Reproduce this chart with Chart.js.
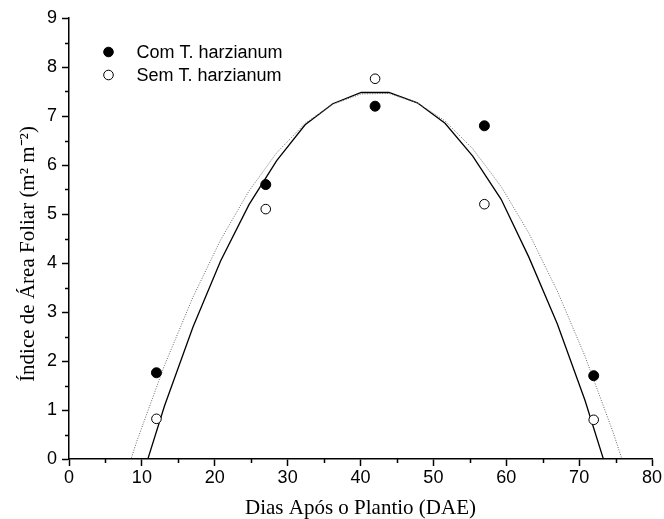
<!DOCTYPE html>
<html>
<head>
<meta charset="utf-8">
<script src="https://cdn.jsdelivr.net/npm/chart.js@4/dist/chart.umd.min.js"></script>
<style>
  html, body { margin: 0; padding: 0; background: #fff; }
  #chart { display: block; }
</style>
</head>
<body>
<canvas id="chart" width="664" height="519"></canvas>
<script>
"use strict";

/* ── Data ────────────────────────────────────────────────── */
const seriesNames = ['Com T. harzianum', 'Sem T. harzianum'];

const sampleDays = [12, 27, 42, 57, 72];
const comValues  = [1.76, 5.6, 7.2, 6.8, 1.7];
const semValues  = [0.82, 5.1, 7.76, 5.2, 0.8];

// fitted curves, read at the polyline vertices
const fitDays = [5.4, 9.3, 13.1, 17.0, 20.8, 24.7, 28.5, 32.4, 36.2, 40.1,
                 43.9, 47.8, 51.6, 55.4, 59.3, 63.1, 67.0, 70.8, 74.7, 78.5];
const comFit  = [-1.43, 0.36, 1.91, 3.30, 4.47, 5.47, 6.25, 6.85, 7.24, 7.45,
                 7.46, 7.27, 6.90, 6.33, 5.56, 4.61, 3.43, 2.10, 0.53, -1.19];
const semFit  = [-2.80, -0.72, 1.08, 2.69, 4.04, 5.19, 6.09, 6.82, 7.25, 7.48,
                 7.48, 7.27, 6.85, 6.18, 5.30, 4.12, 2.76, 1.20, -0.65, -2.67];

const xMajorTicks = [0, 10, 20, 30, 40, 50, 60, 70, 80];
const xMinorTicks = [5, 15, 25, 35, 45, 55, 65, 75];
const yMajorTicks = [0, 1, 2, 3, 4, 5, 6, 7, 8, 9];
const yMinorTicks = [0.5, 1.5, 2.5, 3.5, 4.5, 5.5, 6.5, 7.5, 8.5];

const xTitle = 'Dias Após o Plantio (DAE)';
const yTitle = 'Índice de Área Foliar (m² m⁻²)';

/* ── Styling ─────────────────────────────────────────────── */
const SANS  = '"Liberation Sans", Arial, sans-serif';
const SERIF = '"Liberation Serif", "Times New Roman", serif';
const INK   = '#000';

const toXY = (xs, ys) => xs.map((x, i) => ({ x, y: ys[i] }));

/* minor ticks (Chart.js has none of its own) */
const minorTicks = {
  id: 'minorTicks',
  afterDraw(chart) {
    const { ctx, scales: { x, y } } = chart;
    ctx.save();
    ctx.strokeStyle = INK;
    ctx.lineWidth = 1.5;
    ctx.beginPath();
    xMinorTicks.forEach(v => {
      const px = Math.round(x.getPixelForValue(v)) + 0.5;
      ctx.moveTo(px, x.top);
      ctx.lineTo(px, x.top + 4);
    });
    yMinorTicks.forEach(v => {
      const py = Math.round(y.getPixelForValue(v)) + 0.5;
      ctx.moveTo(y.right, py);
      ctx.lineTo(y.right - 4, py);
    });
    ctx.stroke();
    ctx.restore();
  },
};

/* rotated y title, centred where the figure has it */
const yTitlePlugin = {
  id: 'yTitle',
  afterDraw(chart) {
    const { ctx } = chart;
    ctx.save();
    ctx.translate(34, 254);
    ctx.rotate(-Math.PI / 2);
    ctx.font = `21px ${SERIF}`;
    ctx.fillStyle = INK;
    ctx.textAlign = 'center';
    ctx.textBaseline = 'alphabetic';
    ctx.fillText(yTitle, 0, 0);
    ctx.restore();
  },
};

/* legend inside the plot, top left */
const insetLegend = {
  id: 'insetLegend',
  afterDraw(chart) {
    const { ctx } = chart;
    const rows = [
      { label: seriesNames[0], fill: INK,    y: 52 },
      { label: seriesNames[1], fill: '#fff', y: 75 },
    ];
    ctx.save();
    ctx.font = `18px ${SANS}`;
    ctx.textBaseline = 'middle';
    ctx.textAlign = 'left';
    rows.forEach(r => {
      ctx.beginPath();
      ctx.arc(108.5, r.y, 4.8, 0, Math.PI * 2);
      ctx.fillStyle = r.fill;
      ctx.fill();
      ctx.lineWidth = 1;
      ctx.strokeStyle = INK;
      ctx.stroke();
      ctx.fillStyle = INK;
      ctx.fillText(r.label, 136.5, r.y + 1);
    });
    ctx.restore();
  },
};

/* ── Chart ───────────────────────────────────────────────── */
new Chart(document.getElementById('chart'), {
  type: 'scatter',
  data: {
    datasets: [
      {
        label: seriesNames[0],
        data: toXY(sampleDays, comValues),
        pointRadius: 5,
        pointBackgroundColor: INK,
        pointBorderColor: INK,
        pointBorderWidth: 1,
        order: 0,
      },
      {
        label: seriesNames[1],
        data: toXY(sampleDays, semValues),
        pointRadius: 4.8,
        pointBackgroundColor: '#fff',
        pointBorderColor: INK,
        pointBorderWidth: 1,
        order: 0,
      },
      {
        label: 'Ajuste com',
        data: toXY(fitDays, comFit),
        showLine: true,
        pointRadius: 0,
        borderColor: '#666',
        borderWidth: 1,
        borderDash: [1, 1.5],
        order: 1,
      },
      {
        label: 'Ajuste sem',
        data: toXY(fitDays, semFit),
        showLine: true,
        pointRadius: 0,
        borderColor: INK,
        borderWidth: 1.3,
        order: 1,
      },
    ],
  },
  options: {
    responsive: false,
    animation: false,
    devicePixelRatio: 1,
    layout: { padding: { left: 0, right: 12, top: 18, bottom: 0 } },
    plugins: {
      legend: { display: false },
      tooltip: { enabled: false },
    },
    scales: {
      x: {
        type: 'linear',
        min: 0,
        max: 80,
        afterBuildTicks: s => { s.ticks = xMajorTicks.map(value => ({ value })); },
        afterFit: s => { s.height = 60; },
        border: { display: true, color: INK, width: 1.5 },
        grid: {
          drawOnChartArea: false,
          drawTicks: true,
          tickLength: 7,
          tickColor: INK,
          tickWidth: 1.5,
        },
        ticks: { color: INK, font: { family: SANS, size: 18 }, padding: 1, maxRotation: 0 },
        title: {
          display: true,
          text: xTitle,
          color: INK,
          font: { family: SERIF, size: 21, lineHeight: 1 },
          padding: { top: 0, bottom: 0 },
        },
      },
      y: {
        type: 'linear',
        min: 0,
        max: 9,
        afterBuildTicks: s => { s.ticks = yMajorTicks.map(value => ({ value })); },
        afterFit: s => { s.width = 69; },
        border: { display: true, color: INK, width: 1.5 },
        grid: {
          drawOnChartArea: false,
          drawTicks: true,
          tickLength: 7,
          tickColor: INK,
          tickWidth: 1.5,
        },
        ticks: { color: INK, font: { family: SANS, size: 18 }, padding: 5 },
        title: { display: false },
      },
    },
  },
  plugins: [minorTicks, yTitlePlugin, insetLegend],
});
</script>
</body>
</html>
